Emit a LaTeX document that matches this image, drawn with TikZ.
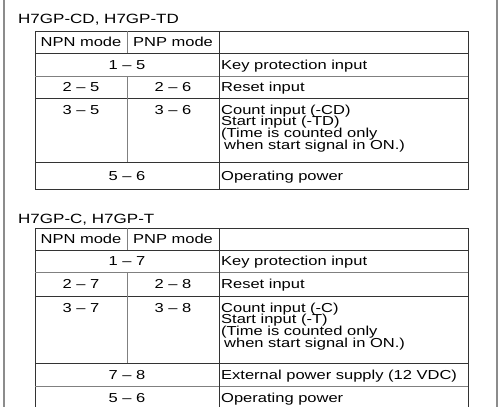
\documentclass[tikz,border=0pt]{standalone}
\usepackage{fontspec}
\setmainfont{Liberation Sans}[FakeStretch=1.27]
\usepackage{xcolor}
\usetikzlibrary{positioning}
\definecolor{framegray}{gray}{0.55}
\definecolor{rulelight}{gray}{0.5}
\definecolor{ruledark}{gray}{0.2}
\tikzstyle{cell} = [inner sep=0pt, font=\fontsize{13}{11.7}\selectfont]
\tikzstyle{mid} = [cell, anchor=base]
\tikzstyle{txt} = [cell, anchor=base west]
\tikzstyle{heading} = [inner sep=0pt, anchor=base west, font=\fontsize{13.4}{14}\selectfont]
\tikzstyle{dark} = [draw=ruledark, line width=0.9pt]
\tikzstyle{light} = [draw=rulelight, line width=0.9pt]

\begin{document}
\begin{tikzpicture}[x=1pt, y=-1pt]
    \useasboundingbox (0,0) rectangle (501,407);
    % Frame
    \draw [framegray, line width=1.6pt] (4,0) -- (4,407);
    \draw [framegray, line width=1.6pt] (497,0) -- (497,407);

    % Upper table: H7GP-CD, H7GP-TD
    \node [heading] (titleCD) at (18,23) {H7GP-CD, H7GP-TD};
    \draw [dark] (35,31) rectangle (468,189);
    \draw [dark] (35,53) -- (468,53);
    \draw [light] (35,76) -- (468,76);
    \draw [dark] (35,98) -- (468,98);
    \draw [dark] (35,162) -- (468,162);
    \draw [dark] (219,31) -- (219,189);
    \draw [light] (127,31) -- (127,53);
    \draw [light] (127,76) -- (127,162);

    \node [mid] (npnCD) at (81,46.5) {NPN mode};
    \node [mid] (pnpCD) at (173,46.5) {PNP mode};
    \node [mid] (keyCD) at (127,69) {1 – 5};
    \node [txt] (keyCDtxt) at (221,69) {Key protection input};
    \node [mid] (rstCDn) at (81,91.5) {2 – 5};
    \node [mid] (rstCDp) at (173,91.5) {2 – 6};
    \node [txt] (rstCDtxt) at (221,91.5) {Reset input};
    \node [mid] (cntCDn) at (81,114) {3 – 5};
    \node [mid] (cntCDp) at (173,114) {3 – 6};
    \node [txt] (cntCDa) at (221,114) {Count input (-CD)};
    \node [txt] (cntCDb) at (221,125.7) {Start input (-TD)};
    \node [txt] (cntCDc) at (221,137.4) {(Time is counted only};
    \node [txt] (cntCDd) at (224,149) {when start signal in ON.)};
    \node [mid] (pwrCD) at (127,180) {5 – 6};
    \node [txt] (pwrCDtxt) at (221,180) {Operating power};

    % Lower table: H7GP-C, H7GP-T
    \node [heading] (titleC) at (18,223) {H7GP-C, H7GP-T};
    \draw [dark] (35,407) -- (35,228) -- (468,228) -- (468,407);
    \draw [dark] (35,250) -- (468,250);
    \draw [light] (35,272) -- (468,272);
    \draw [dark] (35,296) -- (468,296);
    \draw [dark] (35,363) -- (468,363);
    \draw [light] (35,386) -- (468,386);
    \draw [dark] (219,228) -- (219,407);
    \draw [light] (127,228) -- (127,250);
    \draw [light] (127,272) -- (127,363);

    \node [mid] (npnC) at (81,243.5) {NPN mode};
    \node [mid] (pnpC) at (173,243.5) {PNP mode};
    \node [mid] (keyC) at (127,265.5) {1 – 7};
    \node [txt] (keyCtxt) at (221,265.5) {Key protection input};
    \node [mid] (rstCn) at (81,288.5) {2 – 7};
    \node [mid] (rstCp) at (173,288.5) {2 – 8};
    \node [txt] (rstCtxt) at (221,288.5) {Reset input};
    \node [mid] (cntCn) at (81,312) {3 – 7};
    \node [mid] (cntCp) at (173,312) {3 – 8};
    \node [txt] (cntCa) at (221,312) {Count input (-C)};
    \node [txt] (cntCb) at (221,323.7) {Start input (-T)};
    \node [txt] (cntCc) at (221,335.4) {(Time is counted only};
    \node [txt] (cntCd) at (224,347) {when start signal in ON.)};
    \node [mid] (extC) at (127,379) {7 – 8};
    \node [txt] (extCtxt) at (221,379) {External power supply (12 VDC)};
    \node [mid] (pwrC) at (127,402) {5 – 6};
    \node [txt] (pwrCtxt) at (221,402) {Operating power};
\end{tikzpicture}
\end{document}
